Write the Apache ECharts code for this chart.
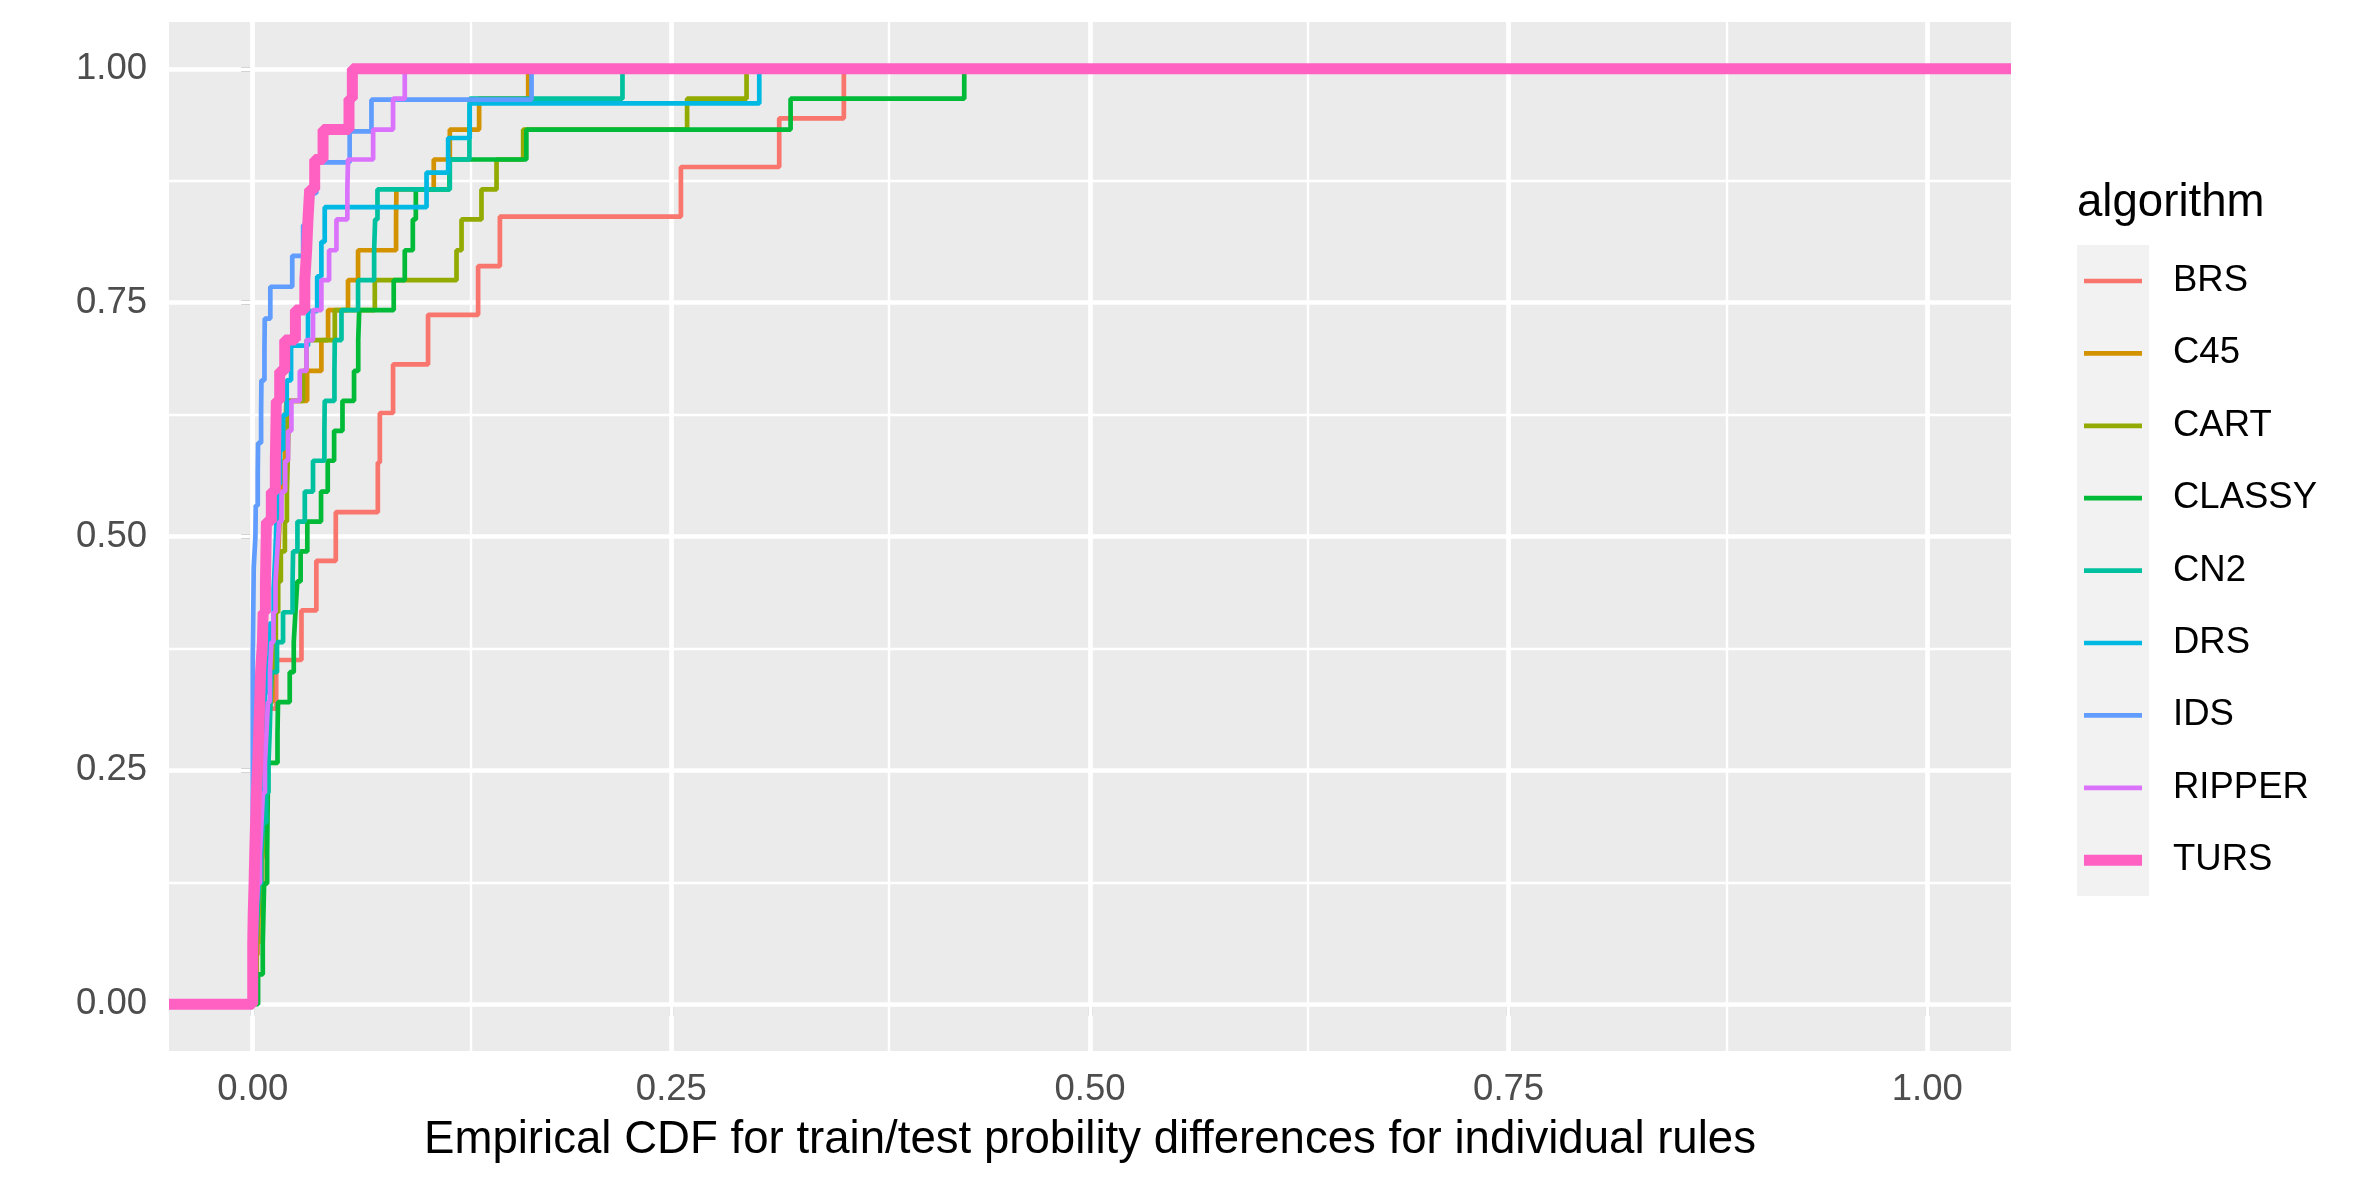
<!DOCTYPE html>
<html>
<head>
<meta charset="utf-8">
<title>Empirical CDF</title>
<script src="https://cdn.jsdelivr.net/npm/echarts@6/dist/echarts.min.js"></script>
<style>
  html, body { margin: 0; padding: 0; background: #ffffff; }
  #main { width: 2362px; height: 1181px; }
</style>
</head>
<body>
<div id="main"></div>
<script>
// algorithms in legend order, ggplot default hue palette
const algorithms = ['BRS', 'C45', 'CART', 'CLASSY', 'CN2', 'DRS', 'IDS', 'RIPPER', 'TURS'];
const colors = ['#F8766D', '#D39200', '#93AA00', '#00BA38', '#00C19F', '#00B9E3', '#619CFF', '#DB72FB', '#FF61C3'];

// ECDF steps: [difference, cumulative share after the jump]
const BRS = [
  [0.0010, 0.053], [0.0030, 0.105], [0.0050, 0.158], [0.0068, 0.211], [0.0075, 0.263],
  [0.0090, 0.316], [0.0140, 0.368], [0.0291, 0.421], [0.0380, 0.474], [0.0496, 0.526],
  [0.0747, 0.579], [0.0759, 0.632], [0.0838, 0.684], [0.1047, 0.737], [0.1346, 0.789],
  [0.1476, 0.842], [0.2557, 0.895], [0.3144, 0.947], [0.3530, 1.000]
];
const C45 = [
  [0.0008, 0.032], [0.0021, 0.065], [0.0034, 0.097], [0.0042, 0.129], [0.0057, 0.161],
  [0.0063, 0.194], [0.0071, 0.226], [0.0084, 0.258], [0.0093, 0.290], [0.0102, 0.323],
  [0.0117, 0.355], [0.0124, 0.387], [0.0132, 0.419], [0.0146, 0.452], [0.0153, 0.484],
  [0.0161, 0.516], [0.0172, 0.548], [0.0181, 0.581], [0.0193, 0.613], [0.0201, 0.645],
  [0.0325, 0.677], [0.0410, 0.710], [0.0450, 0.742], [0.0569, 0.774], [0.0629, 0.806],
  [0.0856, 0.839], [0.0858, 0.871], [0.1081, 0.903], [0.1177, 0.935], [0.1352, 0.968],
  [0.1645, 1.000]
];
const CART = [
  [0.0012, 0.032], [0.0024, 0.065], [0.0033, 0.097], [0.0046, 0.129], [0.0052, 0.161],
  [0.0064, 0.194], [0.0073, 0.226], [0.0081, 0.258], [0.0095, 0.290], [0.0104, 0.323],
  [0.0113, 0.355], [0.0126, 0.387], [0.0138, 0.419], [0.0152, 0.452], [0.0168, 0.484],
  [0.0192, 0.516], [0.0204, 0.548], [0.0209, 0.581], [0.0213, 0.613], [0.0216, 0.645],
  [0.0300, 0.677], [0.0321, 0.710], [0.0490, 0.742], [0.0729, 0.774], [0.1217, 0.806],
  [0.1247, 0.839], [0.1366, 0.871], [0.1456, 0.903], [0.1615, 0.935], [0.2594, 0.968],
  [0.2949, 1.000]
];
const CLASSY = [
  [0.0032, 0.032], [0.0060, 0.065], [0.0064, 0.097], [0.0068, 0.129], [0.0086, 0.161],
  [0.0088, 0.194], [0.0090, 0.226], [0.0092, 0.258], [0.0148, 0.290], [0.0151, 0.323],
  [0.0221, 0.355], [0.0245, 0.387], [0.0255, 0.419], [0.0266, 0.452], [0.0286, 0.484],
  [0.0326, 0.516], [0.0408, 0.548], [0.0448, 0.581], [0.0486, 0.613], [0.0536, 0.645],
  [0.0605, 0.677], [0.0630, 0.710], [0.0636, 0.742], [0.0842, 0.774], [0.0908, 0.806],
  [0.0956, 0.839], [0.0974, 0.871], [0.1175, 0.903], [0.1634, 0.935], [0.3212, 0.968],
  [0.4249, 1.000]
];
const CN2 = [
  [0.0011, 0.032], [0.0019, 0.065], [0.0028, 0.097], [0.0039, 0.129], [0.0051, 0.161],
  [0.0062, 0.194], [0.0081, 0.226], [0.0094, 0.258], [0.0101, 0.290], [0.0106, 0.323],
  [0.0111, 0.355], [0.0145, 0.387], [0.0181, 0.419], [0.0238, 0.452], [0.0241, 0.484],
  [0.0267, 0.516], [0.0311, 0.548], [0.0360, 0.581], [0.0428, 0.613], [0.0430, 0.645],
  [0.0488, 0.677], [0.0490, 0.710], [0.0530, 0.742], [0.0629, 0.774], [0.0725, 0.806],
  [0.0731, 0.839], [0.0745, 0.871], [0.1177, 0.903], [0.1294, 0.935], [0.1296, 0.968],
  [0.2208, 1.000]
];
const DRS = [
  [0.0000, 0.037], [0.0006, 0.074], [0.0013, 0.111], [0.0027, 0.148], [0.0034, 0.185],
  [0.0047, 0.222], [0.0053, 0.259], [0.0068, 0.296], [0.0074, 0.333], [0.0087, 0.370],
  [0.0100, 0.407], [0.0125, 0.444], [0.0135, 0.481], [0.0142, 0.519], [0.0151, 0.556],
  [0.0163, 0.593], [0.0182, 0.630], [0.0203, 0.667], [0.0229, 0.704], [0.0330, 0.741],
  [0.0385, 0.778], [0.0410, 0.815], [0.0430, 0.852], [0.1038, 0.889], [0.1167, 0.926],
  [0.1296, 0.963], [0.3025, 1.000]
];
const IDS = [
  [0.0000, 0.367], [0.0002, 0.400], [0.0004, 0.433], [0.0006, 0.467], [0.0016, 0.500],
  [0.0018, 0.533], [0.0030, 0.567], [0.0032, 0.600], [0.0050, 0.633], [0.0052, 0.667],
  [0.0070, 0.700], [0.0072, 0.733], [0.0105, 0.767], [0.0236, 0.800], [0.0301, 0.833],
  [0.0340, 0.867], [0.0380, 0.900], [0.0579, 0.933], [0.0709, 0.967], [0.1665, 1.000]
];
const RIPPER = [
  [0.0006, 0.032], [0.0013, 0.065], [0.0022, 0.097], [0.0031, 0.129], [0.0043, 0.161],
  [0.0052, 0.194], [0.0061, 0.226], [0.0073, 0.258], [0.0082, 0.290], [0.0091, 0.323],
  [0.0103, 0.355], [0.0112, 0.387], [0.0124, 0.419], [0.0136, 0.452], [0.0147, 0.484],
  [0.0158, 0.516], [0.0172, 0.548], [0.0194, 0.581], [0.0211, 0.613], [0.0231, 0.645],
  [0.0281, 0.677], [0.0321, 0.710], [0.0360, 0.742], [0.0410, 0.774], [0.0456, 0.806],
  [0.0500, 0.839], [0.0565, 0.871], [0.0569, 0.903], [0.0719, 0.935], [0.0838, 0.968],
  [0.0908, 1.000]
];
const TURS = [
  [0.0000, 0.065], [0.0003, 0.097], [0.0008, 0.129], [0.0012, 0.161], [0.0017, 0.194],
  [0.0022, 0.226], [0.0030, 0.258], [0.0036, 0.290], [0.0042, 0.323], [0.0047, 0.355],
  [0.0058, 0.387], [0.0062, 0.419], [0.0076, 0.452], [0.0079, 0.484], [0.0082, 0.516],
  [0.0111, 0.548], [0.0135, 0.581], [0.0138, 0.613], [0.0141, 0.645], [0.0161, 0.677],
  [0.0191, 0.710], [0.0255, 0.742], [0.0311, 0.774], [0.0322, 0.806], [0.0330, 0.839],
  [0.0340, 0.871], [0.0370, 0.903], [0.0420, 0.935], [0.0575, 0.968], [0.0595, 1.000]
];

// axis ticks
const majorTicks = [0, 0.25, 0.5, 0.75, 1];
const minorTicks = [0.125, 0.375, 0.625, 0.875];
const xRange = [-0.05, 1.05];
const yRange = [-0.05, 1.05];

const steps = { BRS, C45, CART, CLASSY, CN2, DRS, IDS, RIPPER, TURS };
const fontFamily = '"Liberation Sans", Arial, Helvetica, sans-serif';

var myChart = echarts.init(document.getElementById('main'));

// stat_ecdf pads with -Inf / Inf, so the step runs to both panel edges
function padSteps(points) {
  return [[xRange[0], 0]].concat(points, [[xRange[1], 1]]);
}

const gridLines = [];
minorTicks.forEach(v => {
  gridLines.push({ xAxis: v, lineStyle: { width: 2.4 } });
  gridLines.push({ yAxis: v, lineStyle: { width: 2.4 } });
});
majorTicks.forEach(v => {
  gridLines.push({ xAxis: v, lineStyle: { width: 4.7 } });
  gridLines.push({ yAxis: v, lineStyle: { width: 4.7 } });
});

const series = [{
  name: 'grid',
  type: 'line',
  z: 1,
  data: [[xRange[0] - 1, yRange[0] - 1]],
  symbol: 'none',
  silent: true,
  markLine: {
    z: 1,
    silent: true,
    symbol: ['none', 'none'],
    label: { show: false },
    emphasis: { disabled: true },
    animation: false,
    lineStyle: { color: '#ffffff', type: 'solid' },
    data: gridLines
  }
}];

algorithms.forEach((name, i) => {
  series.push({
    name: name,
    type: 'line',
    step: 'end',
    z: 3,
    color: colors[i],
    showSymbol: false,
    symbol: 'none',
    lineStyle: { width: name === 'TURS' ? 11 : 4.7, color: colors[i] },
    emphasis: { disabled: true },
    data: padSteps(steps[name])
  });
});

const legendText = {
  fontSize: 36.5,
  lineHeight: 40,
  color: '#000000',
  fontFamily: fontFamily,
  padding: [0, 0, 0, 26]
};

const option = {
  animation: false,
  backgroundColor: '#ffffff',
  title: {
    text: 'algorithm',
    left: 2077,
    top: 180,
    padding: 0,
    textStyle: { fontSize: 45.6, fontWeight: 'normal', color: '#000000', fontFamily: fontFamily }
  },
  graphic: [{
    type: 'rect',
    left: 2077,
    top: 245,
    z: 0,
    shape: { width: 72, height: 651 },
    style: { fill: '#F2F2F2' }
  }],
  legend: [{
    orient: 'vertical',
    left: 2084,
    top: 261,
    padding: 0,
    itemWidth: 58,
    itemHeight: 4.7,
    itemGap: 32.4,
    icon: 'rect',
    selectedMode: false,
    itemStyle: { borderWidth: 0 },
    textStyle: legendText,
    data: algorithms.slice(0, 8)
  }, {
    orient: 'vertical',
    left: 2084,
    top: 261 + 8 * 72.4,
    padding: 0,
    itemWidth: 58,
    itemHeight: 11,
    icon: 'rect',
    selectedMode: false,
    itemStyle: { borderWidth: 0 },
    textStyle: legendText,
    data: algorithms.slice(8)
  }],
  grid: {
    left: 169,
    top: 22,
    width: 1842,
    height: 1029,
    show: true,
    backgroundColor: '#EBEBEB',
    borderWidth: 0
  },
  xAxis: {
    type: 'value',
    min: xRange[0],
    max: xRange[1],
    name: 'Empirical CDF for train/test probility differences for individual rules',
    nameLocation: 'middle',
    nameGap: 66,
    nameTextStyle: { fontSize: 45.6, color: '#000000', fontFamily: fontFamily },
    axisLine: { show: false },
    axisTick: { show: true, length: 11.5, customValues: majorTicks, lineStyle: { color: '#333333', width: 4.7 } },
    axisLabel: {
      customValues: majorTicks,
      margin: 20,
      fontSize: 36.5,
      color: '#4D4D4D',
      fontFamily: fontFamily,
      formatter: v => v.toFixed(2)
    },
    splitLine: { show: false },
    minorSplitLine: { show: false }
  },
  yAxis: {
    type: 'value',
    min: yRange[0],
    max: yRange[1],
    axisLine: { show: false },
    axisTick: { show: true, length: 11.5, customValues: majorTicks, lineStyle: { color: '#333333', width: 4.7 } },
    axisLabel: {
      customValues: majorTicks,
      margin: 22,
      fontSize: 36.5,
      color: '#4D4D4D',
      fontFamily: fontFamily,
      formatter: v => v.toFixed(2)
    },
    splitLine: { show: false },
    minorSplitLine: { show: false }
  },
  series: series
};

myChart.setOption(option);
</script>
</body>
</html>
